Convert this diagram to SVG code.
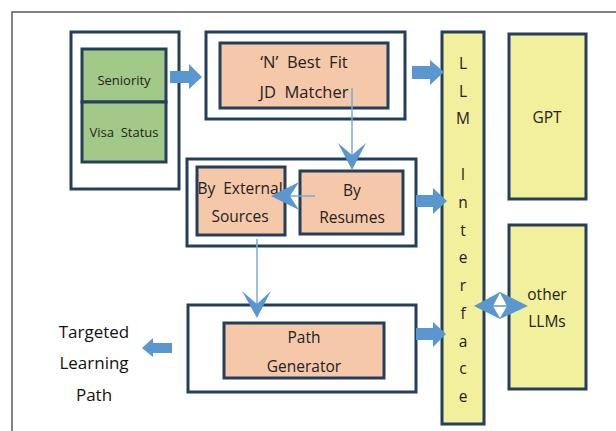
<svg xmlns="http://www.w3.org/2000/svg" width="616" height="431" viewBox="0 0 616 431">
<defs>
<style>
.frame{fill:none;stroke:#5a5a5a;stroke-width:1.5}
.outer{fill:#ffffff;stroke:#253f5a;stroke-width:3}
.orange{fill:#f5c8a9;stroke:#253f5a;stroke-width:3}
.green{fill:#a2c987;stroke:#253f5a;stroke-width:3}
.yellow{fill:#f2f09c;stroke:#253f5a;stroke-width:3}
.blk{fill:#5b97cf}
.line{stroke:#7aa9d8;stroke-width:1.5;fill:none}
text{font-family:"Open Sans","Noto Sans","DejaVu Sans",sans-serif;fill:#222;text-anchor:middle;white-space:pre}
.t{font-size:15.5px}
.m{font-size:16.5px}
.s{font-size:13px}
.l{font-size:17px;fill:#111}
</style>
</defs>
<rect class="frame" x="12" y="12" width="640" height="440"/>

<g id="box1">
<rect class="outer" x="71" y="32" width="108" height="157"/>
</g>
<g id="seniority">
<rect class="green" x="82" y="49" width="84" height="53"/>
<text class="s" x="124" y="84.5">Seniority</text>
</g>
<g id="visa">
<rect class="green" x="82" y="102" width="84" height="60"/>
<text class="s" x="124" y="136.5">Visa  Status</text>
</g>

<g id="box2">
<rect class="outer" x="206" y="32" width="199" height="87"/>
</g>
<g id="matcher">
<rect class="orange" x="220" y="43" width="168" height="65"/>
<text class="m" x="304" y="67.5">‘N’  Best  Fit</text>
<text class="m" x="304" y="97.5">JD  Matcher</text>
</g>

<g id="box3">
<rect class="outer" x="187" y="159" width="229" height="87"/>
</g>
<g id="external">
<rect class="orange" x="197" y="167" width="88" height="68"/>
<text class="t" x="240" y="193.5">By  External</text>
<text class="t" x="240" y="221.5">Sources</text>
</g>
<g id="resumes">
<rect class="orange" x="300" y="171" width="103" height="63"/>
<text class="t" x="352" y="195.5">By</text>
<text class="t" x="352" y="222.5">Resumes</text>
</g>

<g id="box4">
<rect class="outer" x="188" y="305" width="228" height="87"/>
</g>
<g id="pathgen">
<rect class="orange" x="224" y="323" width="160" height="55"/>
<text class="t" x="304" y="342.5">Path</text>
<text class="t" x="304" y="371.5">Generator</text>
</g>

<g id="llm">
<rect class="yellow" x="442" y="32" width="42" height="392"/>
<text class="t" x="463" y="68.5">L</text>
<text class="t" x="463" y="96.5">L</text>
<text class="t" x="463" y="123.5">M</text>
<text class="t" x="463" y="179.5">I</text>
<text class="t" x="463" y="207.5">n</text>
<text class="t" x="463" y="235.5">t</text>
<text class="t" x="463" y="262.5">e</text>
<text class="t" x="463" y="290.5">r</text>
<text class="t" x="463" y="318.5">f</text>
<text class="t" x="463" y="346.5">a</text>
<text class="t" x="463" y="373.5">c</text>
<text class="t" x="463" y="401.5">e</text>
</g>

<g id="gpt">
<rect class="yellow" x="509" y="34" width="77" height="165"/>
<text class="t" x="547" y="122.5">GPT</text>
</g>

<g id="other">
<rect class="yellow" x="509" y="225" width="77" height="164"/>
<text class="t" x="547" y="299.5">other</text>
<text class="t" x="547" y="326.5">LLMs</text>
</g>

<g id="target">
<text class="l" x="94" y="338">Targeted</text>
<text class="l" x="94" y="369">Learning</text>
<text class="l" x="94" y="401">Path</text>
</g>

<g id="connectors">
<polygon class="blk" points="170,71 189,71 189,64 202,77 189,89 189,83 170,83"/>
<polygon class="blk" points="412,66 430,66 430,60 444,72 430,85 430,79 412,79"/>
<polygon class="blk" points="416,195 433,195 433,188 447,201 433,214 433,207 416,207"/>
<polygon class="blk" points="416,328 433,328 433,322 446,334 433,347 433,340 416,340"/>
<polygon class="blk" points="172,343 153,343 153,338 142,348 153,357 153,353 172,353"/>
<line class="line" x1="352" y1="88" x2="352" y2="156"/>
<polygon class="blk" points="352,170 338,143 352,155 366,143"/>
<line class="line" x1="315" y1="196" x2="290" y2="196"/>
<polygon class="blk" points="271,196 299,182 290,196 299,210"/>
<line class="line" x1="257" y1="239" x2="257" y2="305"/>
<polygon class="blk" points="257,318 242,291 257,304 271,291"/>
<polygon class="blk" points="474,306 500,292 528,306 500,319"/>
<polygon fill="#ffffff" points="493,306 500,293 507,306 500,318"/>
<line x1="492" y1="306" x2="508" y2="306" stroke="#5b97cf" stroke-width="1.5"/>
</g>
</svg>
